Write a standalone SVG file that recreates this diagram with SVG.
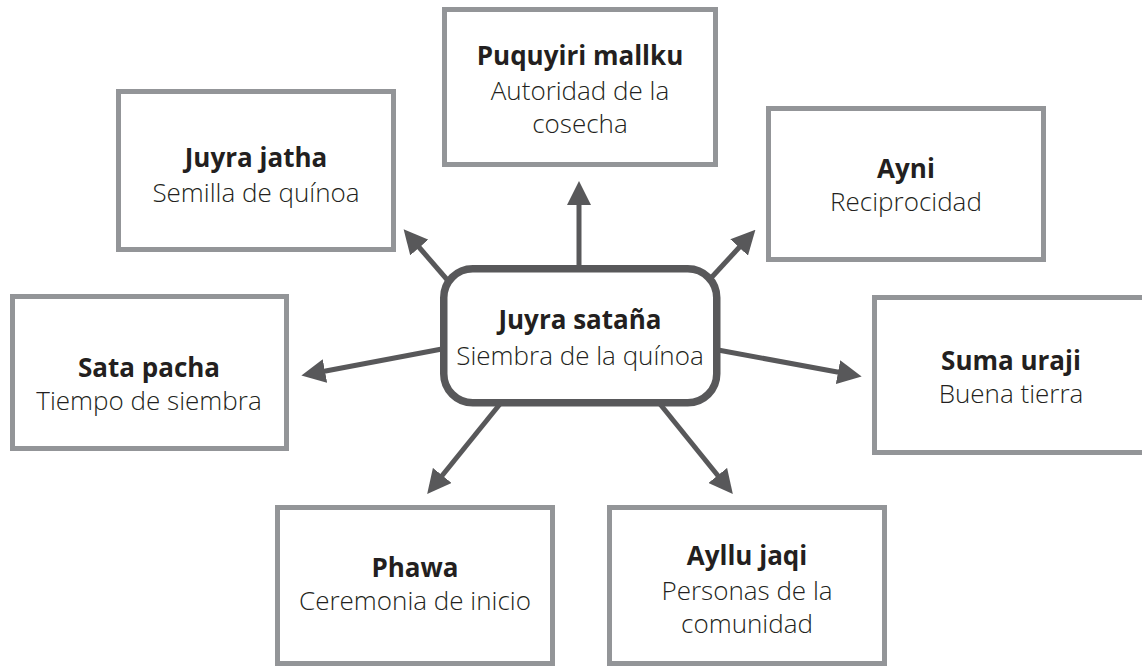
<svg xmlns="http://www.w3.org/2000/svg" width="1142" height="667" viewBox="0 0 1142 667">
<style>
.box{fill:#ffffff;stroke:#939598;stroke-width:5}
.hub{fill:#ffffff;stroke:#58585a;stroke-width:7.5}
.conn{stroke:#58585a;stroke-width:5;fill:none}
text{font-family:"Open Sans","Noto Sans","Liberation Sans",sans-serif;font-size:26px;fill:#231f20;text-anchor:middle}
.t{font-weight:700}
.s{font-weight:300}
</style>
<defs>
<marker id="ah" viewBox="0 0 24 24" refX="2" refY="12" markerWidth="24" markerHeight="24" markerUnits="userSpaceOnUse" orient="auto">
<path d="M0,0 L24,12 L0,24 Z" fill="#58585a"/>
</marker>
</defs>
<rect width="1142" height="667" fill="#ffffff"/>
<g id="connectors">
<line class="conn" x1="579" y1="268" x2="579" y2="203" marker-end="url(#ah)"/>
<line class="conn" x1="450" y1="283" x2="418" y2="246" marker-end="url(#ah)"/>
<line class="conn" x1="711" y1="278" x2="740.5" y2="246" marker-end="url(#ah)"/>
<line class="conn" x1="500" y1="404" x2="441" y2="477" marker-end="url(#ah)"/>
<line class="conn" x1="660" y1="404" x2="719" y2="477" marker-end="url(#ah)"/>
<line class="conn" x1="442" y1="349" x2="323" y2="371.5" marker-end="url(#ah)"/>
<line class="conn" x1="718" y1="350" x2="840" y2="372.5" marker-end="url(#ah)"/>
</g>
<g id="hub">
<rect class="hub" x="443.75" y="268.75" width="273" height="134" rx="29"/>
<text class="t" x="580" y="329">Juyra sataña</text>
<text class="s" x="580" y="365">Siembra de la quínoa</text>
</g>
<g id="puquyiri">
<rect class="box" x="444.5" y="9.5" width="271" height="155"/>
<text class="t" x="580" y="65">Puquyiri mallku</text>
<text class="s" x="580" y="100">Autoridad de la</text>
<text class="s" x="580" y="133">cosecha</text>
</g>
<g id="juyra-jatha">
<rect class="box" x="118.5" y="91.5" width="275" height="158"/>
<text class="t" x="256" y="167">Juyra jatha</text>
<text class="s" x="256" y="202">Semilla de quínoa</text>
</g>
<g id="ayni">
<rect class="box" x="768.5" y="108.5" width="275" height="151"/>
<text class="t" x="906" y="178">Ayni</text>
<text class="s" x="906" y="211">Reciprocidad</text>
</g>
<g id="sata-pacha">
<rect class="box" x="12.5" y="296.5" width="274" height="152"/>
<text class="t" x="149" y="377">Sata pacha</text>
<text class="s" x="149" y="410">Tiempo de siembra</text>
</g>
<g id="suma-uraji">
<rect class="box" x="874.5" y="297.5" width="275" height="155"/>
<text class="t" x="1011" y="370">Suma uraji</text>
<text class="s" x="1011" y="403">Buena tierra</text>
</g>
<g id="phawa">
<rect class="box" x="277.5" y="507.5" width="275" height="156"/>
<text class="t" x="415" y="577">Phawa</text>
<text class="s" x="415" y="610">Ceremonia de inicio</text>
</g>
<g id="ayllu-jaqi">
<rect class="box" x="609.5" y="507.5" width="275" height="156"/>
<text class="t" x="747" y="565">Ayllu jaqi</text>
<text class="s" x="747" y="600">Personas de la</text>
<text class="s" x="747" y="633">comunidad</text>
</g>
</svg>
